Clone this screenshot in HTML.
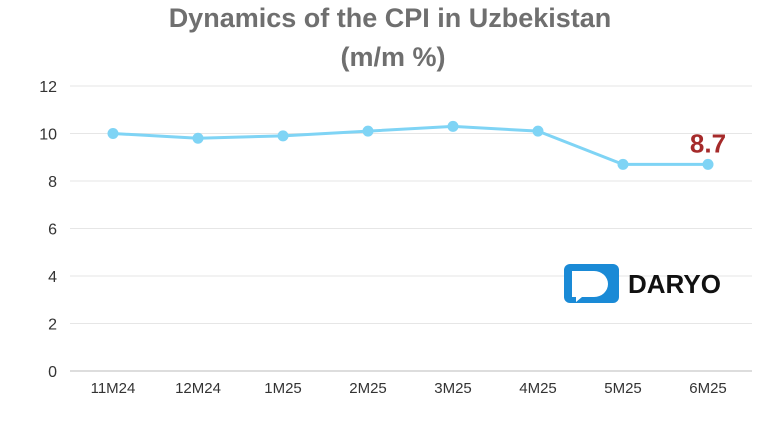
<!DOCTYPE html>
<html><head><meta charset="utf-8"><style>
body{margin:0;background:#fff;width:768px;height:432px;overflow:hidden;font-family:"Liberation Sans",sans-serif}
</style></head><body>
<svg id="chart" width="768" height="432" xmlns="http://www.w3.org/2000/svg">
<text x="390" y="27" text-anchor="middle" font-size="27" font-weight="bold" fill="#6f6f6f" font-family="Liberation Sans, sans-serif">Dynamics of the CPI in Uzbekistan</text>
<text x="393" y="66" text-anchor="middle" font-size="27" font-weight="bold" fill="#6f6f6f" font-family="Liberation Sans, sans-serif">(m/m %)</text>
<g id="grid"></g><g id="series"></g>
<g>
<rect x="564" y="264" width="55" height="39" rx="6" fill="#1a8ad6"/>
<path d="M572 271 h22 a14 13 0 0 1 0 26 h-12 l-6 5 v-5 h-4 z" fill="#fff"/>
<text x="628" y="293" font-size="26" font-weight="bold" fill="#111" font-family="Liberation Sans, sans-serif">DARYO</text>
</g>
</svg>
<script>
const categories=["11M24","12M24","1M25","2M25","3M25","4M25","5M25","6M25"];
const values=[10.0,9.8,9.9,10.1,10.3,10.1,8.7,8.7];
const yTicks=[0,2,4,6,8,10,12];
const NS="http://www.w3.org/2000/svg";
const x=i=>113+i*85;
const y=v=>371-v*23.75;
const grid=document.getElementById('grid'),ser=document.getElementById('series');
function mk(t,a,p){const e=document.createElementNS(NS,t);for(const k in a)e.setAttribute(k,a[k]);p.appendChild(e);return e;}
yTicks.forEach(v=>{
 const l=mk('line',{x1:70,x2:752,y1:y(v),y2:y(v),stroke:v===0?'#bbb':'#e6e6e6','stroke-width':1},grid);
 
 
 const t=mk('text',{x:57,y:y(v)+6,'text-anchor':'end','font-size':16,fill:'#333','font-family':'Liberation Sans, sans-serif'},grid);
 t.textContent=v;
 
 
});
categories.forEach((c,i)=>{
 const t=mk('text',{x:x(i),y:393,'text-anchor':'middle','font-size':15,fill:'#333','font-family':'Liberation Sans, sans-serif'},grid);
 t.textContent=c;
 
 
});
const p=mk('polyline',{points:values.map((v,i)=>x(i)+','+y(v)).join(' '),fill:'none',stroke:'#7fd4f5','stroke-width':3},ser);


values.forEach((v,i)=>{
 const c=mk('circle',{cx:x(i),cy:y(v),r:5.5,fill:'#7fd4f5'},ser);
 
 
});
const last=values.length-1;
const lb=mk('text',{x:x(last),y:y(values[last])-12,'text-anchor':'middle','font-size':26,'font-weight':'bold',fill:'#a52a2a','font-family':'Liberation Sans, sans-serif'},ser);
lb.textContent=values[last];


</script>
</body></html>
